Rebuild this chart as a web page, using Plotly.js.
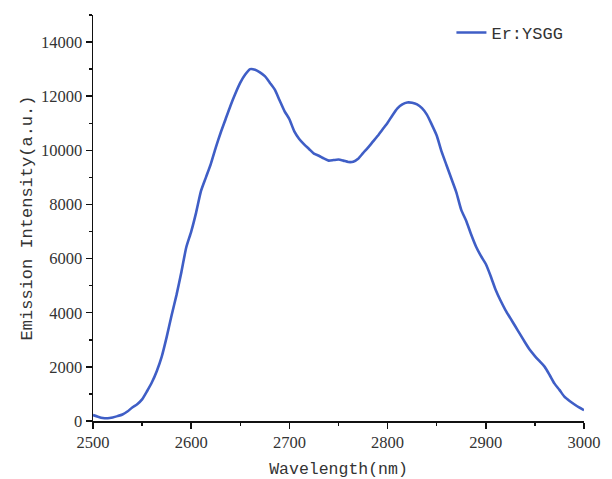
<!DOCTYPE html>
<html>
<head>
<meta charset="utf-8">
<script src="https://cdn.plot.ly/plotly-3.0.1.min.js"></script>
<style>html,body{margin:0;padding:0;background:#fff;}#chart{width:612px;height:479px;}</style>
</head>
<body>
<div id="chart"></div>
<script>
const wavelength = [2500,2505,2510,2515,2520,2525,2530,2535,2540,2545,2550,2555,2560,2565,2570,2575,2580,2585,2590,2595,2600,2605,2610,2615,2620,2625,2630,2635,2640,2645,2650,2655,2660,2665,2670,2675,2680,2685,2690,2695,2700,2705,2710,2715,2720,2725,2730,2735,2740,2745,2750,2755,2760,2765,2770,2775,2780,2785,2790,2795,2800,2805,2810,2815,2820,2825,2830,2835,2840,2845,2850,2855,2860,2865,2870,2875,2880,2885,2890,2895,2900,2905,2910,2915,2920,2925,2930,2935,2940,2945,2950,2955,2960,2965,2970,2975,2980,2985,2990,2995,3000];
const intensity = [220,160,110,100,130,180,240,350,500,620,800,1100,1430,1850,2380,3100,3900,4650,5500,6420,7000,7700,8500,9000,9500,10100,10650,11150,11650,12100,12500,12800,13000,12980,12880,12740,12500,12250,11850,11450,11150,10700,10420,10220,10050,9880,9800,9700,9620,9640,9660,9620,9570,9580,9690,9900,10100,10320,10540,10780,11020,11300,11550,11700,11770,11760,11700,11560,11320,10950,10550,9950,9450,8950,8450,7800,7400,6900,6450,6100,5800,5350,4850,4450,4100,3800,3500,3200,2900,2620,2400,2200,2000,1700,1380,1150,900,750,620,500,400];
const seriesName = 'Er:YSGG';
const xTitle = 'Wavelength(nm)';
const yTitle = 'Emission Intensity(a.u.)';

const textColor = '#333333';
const serif = '"Liberation Serif", "DejaVu Serif", serif';
const mono = '"Liberation Mono", "DejaVu Sans Mono", monospace';

const trace = {
  x: wavelength, y: intensity, type: 'scatter', mode: 'lines', name: seriesName,
  line: {color: '#3f5ec6', width: 2.6, shape: 'spline', smoothing: 0.6}
};

const layout = {
  width: 612, height: 479,
  margin: {l: 93, r: 28, t: 15, b: 58},
  paper_bgcolor: '#ffffff', plot_bgcolor: '#ffffff',
  showlegend: true,
  legend: {x: 0.73, y: 1.0, xanchor: 'left', yanchor: 'top', bgcolor: 'rgba(0,0,0,0)',
           font: {family: mono, size: 17, color: textColor}},
  xaxis: {
    range: [2500, 3000], dtick: 100, tick0: 2500, showgrid: false, zeroline: false,
    showline: true, linecolor: '#111', linewidth: 1.5,
    ticks: 'outside', ticklen: 6, tickwidth: 1.5, tickcolor: '#111',
    minor: {dtick: 50, ticks: 'outside', ticklen: 3, tickwidth: 1.5, tickcolor: '#111', showgrid: false},
    tickfont: {family: serif, size: 16.5, color: textColor},
    tickformat: 'd',
    title: {text: xTitle, font: {family: mono, size: 16.5, color: textColor}, standoff: 13}
  },
  yaxis: {
    range: [0, 15000], dtick: 2000, showgrid: false, zeroline: false,
    showline: true, linecolor: '#111', linewidth: 1.5,
    ticks: 'outside', ticklen: 6, tickwidth: 1.5, tickcolor: '#111',
    minor: {dtick: 1000, ticks: 'outside', ticklen: 3, tickwidth: 1.5, tickcolor: '#111', showgrid: false},
    tickfont: {family: serif, size: 16.5, color: textColor},
    tickformat: 'd',
    title: {text: yTitle, font: {family: mono, size: 17, color: textColor}, standoff: 4}
  }
};

Plotly.newPlot('chart', [trace], layout, {staticPlot: true, displayModeBar: false});
</script>
</body>
</html>
